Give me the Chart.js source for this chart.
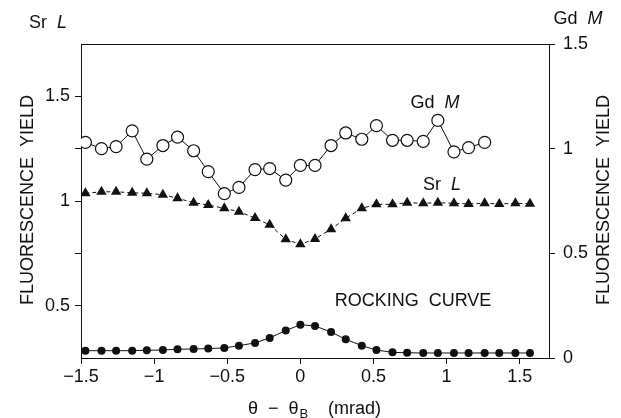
<!DOCTYPE html>
<html>
<head>
<meta charset="utf-8">
<script src="https://cdn.jsdelivr.net/npm/chart.js@4/dist/chart.umd.min.js"></script>
<style>
  body { margin: 0; background: #fff; }
</style>
</head>
<body>
<canvas id="yieldChart" width="621" height="418"></canvas>
<script>
// angle offsets theta - theta_B (mrad)
const angles = [-1.47, -1.36, -1.26, -1.15, -1.05, -0.94, -0.84, -0.73, -0.63, -0.52,
  -0.42, -0.31, -0.21, -0.10, 0.00, 0.10, 0.21, 0.31, 0.42, 0.52,
  0.63, 0.73, 0.84, 0.94, 1.05, 1.15, 1.26, 1.36, 1.47, 1.57];

// Gd M yield (right axis)
const gdM = [1.03, 1.00, 1.01, 1.085, 0.95, 1.015, 1.055, 0.99, 0.89, 0.785,
  0.815, 0.90, 0.905, 0.85, 0.92, 0.92, 1.015, 1.075, 1.045, 1.11,
  1.04, 1.04, 1.035, 1.135, 0.985, 1.005, 1.03];

// Sr L yield (left axis)
const srL = [1.037, 1.044, 1.044, 1.039, 1.037, 1.030, 1.013, 0.992, 0.981, 0.965,
  0.949, 0.919, 0.886, 0.817, 0.793, 0.819, 0.865, 0.918, 0.965, 0.984,
  0.984, 0.992, 0.989, 0.992, 0.989, 0.986, 0.989, 0.986, 0.989, 0.987];

// rocking curve (right axis)
const rocking = [0.035, 0.035, 0.035, 0.035, 0.037, 0.038, 0.042, 0.043, 0.045, 0.048,
  0.059, 0.072, 0.096, 0.131, 0.159, 0.153, 0.124, 0.089, 0.059, 0.038,
  0.027, 0.025, 0.024, 0.024, 0.024, 0.024, 0.024, 0.024, 0.024, 0.024];

const xTicks = [-1.5, -1, -0.5, 0, 0.5, 1, 1.5];
const leftTicks = [0.5, 0.75, 1, 1.25, 1.5];
const leftLabels = ['0.5', '', '1', '', '1.5'];
const rightTicks = [0, 0.5, 1, 1.5];

const FONT = '"Liberation Sans", Arial, sans-serif';
const INK = '#111';

const toPoints = vals => vals.map((v, i) => ({ x: angles[i], y: v }));
const fmt = v => (v < 0 ? '\u2212' + Math.abs(v) : String(v));

// texts on the plot
const labelsPlugin = {
  id: 'labels',
  afterDraw(chart) {
    const c = chart.ctx;
    c.save();
    c.fillStyle = INK;
    c.textBaseline = 'middle';

    const pair = (a, b, cx, cy) => {
      c.font = '18px ' + FONT;
      const wa = c.measureText(a + '  ').width;
      c.font = 'italic 18px ' + FONT;
      const wb = c.measureText(b).width;
      let x = cx - (wa + wb) / 2;
      c.textAlign = 'left';
      c.font = '18px ' + FONT;
      c.fillText(a + '  ', x, cy);
      c.font = 'italic 18px ' + FONT;
      c.fillText(b, x + wa, cy);
    };
    pair('Sr', 'L', 48, 23);
    pair('Gd', 'M', 578, 19);
    pair('Gd', 'M', 435, 103);
    pair('Sr', 'L', 442, 185);

    c.font = '18px ' + FONT;
    c.textAlign = 'center';
    c.fillText('ROCKING  CURVE', 413, 301);

    // axis titles
    [[28, 200], [604, 200]].forEach(([x, y]) => {
      c.save();
      c.translate(x, y);
      c.rotate(-Math.PI / 2);
      c.fillText('FLUORESCENCE  YIELD', 0, 0);
      c.restore();
    });

    // x title with subscript
    const p1 = '\u03b8  \u2212  \u03b8';
    const p3 = '    (mrad)';
    c.font = '18px ' + FONT;
    const w1 = c.measureText(p1).width;
    const w3 = c.measureText(p3).width;
    c.font = '13px ' + FONT;
    const w2 = c.measureText('B').width;
    let x = 314 - (w1 + w2 + w3) / 2;
    c.textAlign = 'left';
    c.font = '18px ' + FONT;
    c.fillText(p1, x, 409);
    c.font = '13px ' + FONT;
    c.fillText('B', x + w1 + 1, 414);
    c.font = '18px ' + FONT;
    c.fillText(p3, x + w1 + w2 + 1, 409);
    c.restore();
  }
};

const ctx = document.getElementById('yieldChart');

new Chart(ctx, {
  type: 'line',
  data: {
    datasets: [
      {
        label: 'Gd M',
        data: toPoints(gdM),
        yAxisID: 'y2',
        borderColor: INK,
        borderWidth: 1,
        pointStyle: 'circle',
        pointRadius: 6,
        pointBackgroundColor: '#fff',
        pointBorderColor: INK,
        pointBorderWidth: 1.2,
        tension: 0
      },
      {
        label: 'Sr L',
        data: toPoints(srL),
        yAxisID: 'y',
        borderColor: INK,
        borderWidth: 1,
        borderDash: [4, 3],
        pointStyle: 'triangle',
        pointRadius: 6,
        pointBackgroundColor: INK,
        pointBorderColor: INK,
        pointBorderWidth: 0,
        tension: 0
      },
      {
        label: 'Rocking curve',
        data: toPoints(rocking),
        yAxisID: 'y2',
        borderColor: INK,
        borderWidth: 1,
        pointStyle: 'circle',
        pointRadius: 4,
        pointBackgroundColor: INK,
        pointBorderColor: INK,
        pointBorderWidth: 0,
        tension: 0
      }
    ]
  },
  options: {
    responsive: false,
    animation: false,
    layout: { padding: 0 },
    plugins: {
      legend: { display: false },
      tooltip: { enabled: false }
    },
    scales: {
      x: {
        type: 'linear',
        position: 'bottom',
        min: -1.5,
        max: 1.7,
        afterBuildTicks: s => { s.ticks = xTicks.map(v => ({ value: v })); },
        afterFit: s => { s.height = 60; },
        ticks: {
          color: INK,
          font: { size: 18, family: FONT },
          padding: 2,
          maxRotation: 0,
          callback: v => fmt(v)
        },
        grid: { drawOnChartArea: false, drawTicks: true, tickLength: 6, color: INK },
        border: { display: true, color: INK, width: 1 }
      },
      xTop: {
        type: 'linear',
        position: 'top',
        min: -1.5,
        max: 1.7,
        afterFit: s => { s.height = 44; },
        ticks: { display: false },
        grid: { display: false },
        border: { display: true, color: INK, width: 1 }
      },
      y: {
        type: 'linear',
        position: 'left',
        min: 0.25,
        max: 1.75,
        afterBuildTicks: s => { s.ticks = leftTicks.map(v => ({ value: v })); },
        afterFit: s => { s.width = 81; },
        ticks: {
          color: INK,
          font: { size: 18, family: FONT },
          padding: 5,
          callback: (v, i) => leftLabels[i]
        },
        grid: { drawOnChartArea: false, drawTicks: true, tickLength: 6, color: INK },
        border: { display: true, color: INK, width: 1 }
      },
      y2: {
        type: 'linear',
        position: 'right',
        min: 0,
        max: 1.5,
        afterBuildTicks: s => { s.ticks = rightTicks.map(v => ({ value: v })); },
        afterFit: s => { s.width = 72; },
        ticks: {
          color: INK,
          font: { size: 18, family: FONT },
          padding: 8,
          callback: v => fmt(v)
        },
        grid: { drawOnChartArea: false, drawTicks: true, tickLength: 6, color: INK },
        border: { display: true, color: INK, width: 1 }
      }
    }
  },
  plugins: [labelsPlugin]
});
</script>
</body>
</html>
